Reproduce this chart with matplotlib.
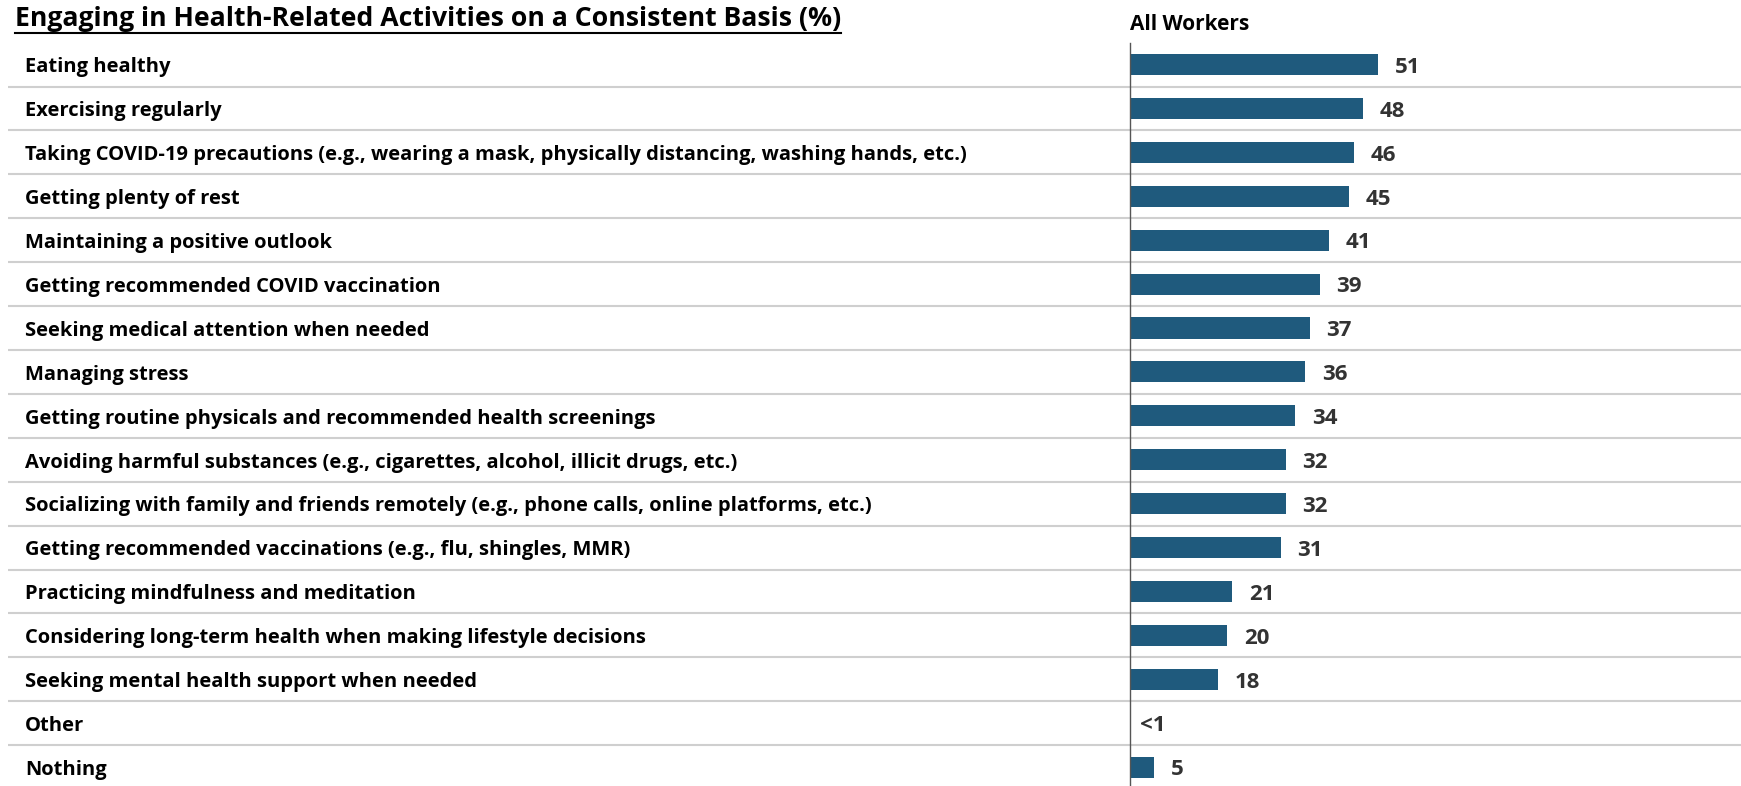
import matplotlib
matplotlib.use('Agg')
import matplotlib.pyplot as plt
from matplotlib.lines import Line2D
from matplotlib.transforms import blended_transform_factory

plt.rcParams['font.family'] = ['Open Sans', 'DejaVu Sans']

title = 'Engaging in Health-Related Activities on a Consistent Basis (%)'
series_name = 'All Workers'

categories = [
    'Eating healthy',
    'Exercising regularly',
    'Taking COVID-19 precautions (e.g., wearing a mask, physically distancing, washing hands, etc.)',
    'Getting plenty of rest',
    'Maintaining a positive outlook',
    'Getting recommended COVID vaccination',
    'Seeking medical attention when needed',
    'Managing stress',
    'Getting routine physicals and recommended health screenings',
    'Avoiding harmful substances (e.g., cigarettes, alcohol, illicit drugs, etc.)',
    'Socializing with family and friends remotely (e.g., phone calls, online platforms, etc.)',
    'Getting recommended vaccinations (e.g., flu, shingles, MMR)',
    'Practicing mindfulness and meditation',
    'Considering long-term health when making lifestyle decisions',
    'Seeking mental health support when needed',
    'Other',
    'Nothing',
]
values = [51, 48, 46, 45, 41, 39, 37, 36, 34, 32, 32, 31, 21, 20, 18, 0, 5]
value_labels = ['51', '48', '46', '45', '41', '39', '37', '36', '34', '32',
                '32', '31', '21', '20', '18', '<1', '5']

BAR = '#1f5a7d'
W, H = 1741, 786

fig = plt.figure(figsize=(W / 100, H / 100), dpi=100)
ax = fig.add_axes([8 / W, 0, 1 - 8 / W, 1])

n = len(categories)
rows = list(range(n))
ax.barh(rows, values, height=0.48, color=BAR, zorder=3)

ax.set_xlim(-230.9, 125.7)
ax.set_ylim(16.43, -1.47)
ax.axis('off')

# row separators across the whole width
for i in range(n - 1):
    ax.axhline(i + 0.5, color='#cfcfcf', lw=1.5, zorder=1)

# baseline of the bars
ax.plot([0, 0], [-0.49, 16.43], color='#555555', lw=1, zorder=4)

trans = blended_transform_factory(fig.transFigure, ax.transData)
for i, cat in enumerate(categories):
    ax.annotate(cat, (25 / W, i), xycoords=trans, xytext=(0, -2),
                textcoords='offset points', ha='left', va='center',
                fontsize=14.5, fontweight='bold', color='black')

for i, (v, lbl) in enumerate(zip(values, value_labels)):
    off = 12 if v > 0 else 7
    ax.annotate(lbl, (v, i), xytext=(off, -2), textcoords='offset points',
                ha='left', va='center', fontsize=16, fontweight='bold',
                color='#333333')

fig.text(1130 / W, 1 - 24 / H, series_name, ha='left', va='center',
         fontsize=15, fontweight='bold', color='black')

t = fig.text(15 / W, 1 - 19 / H, title, ha='left', va='center',
             fontsize=19.2, fontweight='bold', color='black')
fig.canvas.draw()
bb = t.get_window_extent()
fig.add_artist(Line2D([bb.x0 / W, bb.x1 / W], [1 - 33 / H, 1 - 33 / H],
                      transform=fig.transFigure, color='black', lw=1.5))

fig.savefig('out.png', dpi=100)
